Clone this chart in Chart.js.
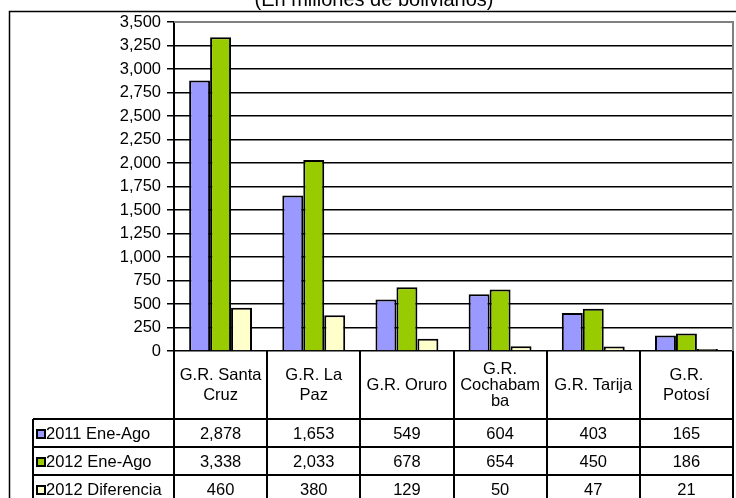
<!DOCTYPE html>
<html>
<head>
<meta charset="utf-8">
<script src="https://cdn.jsdelivr.net/npm/chart.js@4/dist/chart.umd.min.js"></script>
<style>
  html, body { margin: 0; padding: 0; background: #fff; }
  #wrap { width: 736px; height: 498px; }
</style>
</head>
<body>
<div id="wrap"><canvas id="chart" width="736" height="498"></canvas></div>
<script>
// data (millones de bolivianos)
var categories = [['G.R. Santa', 'Cruz'], ['G.R. La', 'Paz'], ['G.R. Oruro'], ['G.R.', 'Cochabam', 'ba'], ['G.R. Tarija'], ['G.R.', 'Potosí']];
var seriesNames = ['2011 Ene-Ago', '2012 Ene-Ago', '2012 Diferencia'];
var ene2011 = [2878, 1653, 549, 604, 403, 165];
var ene2012 = [3338, 2033, 678, 654, 450, 186];
var diferencia = [460, 380, 129, 50, 47, 21];
var seriesColors = ['#9999FF', '#99CC00', '#FFFFCC'];
var yTicks = [0, 250, 500, 750, 1000, 1250, 1500, 1750, 2000, 2250, 2500, 2750, 3000, 3250, 3500];
var title = '(En millones de bolivianos)';

var FONT = '"Liberation Sans", Arial, sans-serif';
var allSeries = [ene2011, ene2012, diferencia];

function fmt(v) { return v.toLocaleString('en-US'); }

// frame, title and plot-area border
var framePlugin = {
	id: 'frame',
	beforeDraw: function(chart) {
		var ctx = chart.ctx;
		ctx.save();
		ctx.fillStyle = '#fff';
		ctx.fillRect(0, 0, chart.width, chart.height);
		ctx.strokeStyle = '#000';
		ctx.lineWidth = 1.5;
		ctx.strokeRect(9.5, 11.5, chart.width + 20, chart.height + 20);
		ctx.fillStyle = '#000';
		ctx.font = '20px ' + FONT;
		ctx.textAlign = 'center';
		ctx.textBaseline = 'alphabetic';
		ctx.fillText(title, 374, 6);
		ctx.restore();
	},
	beforeDatasetsDraw: function(chart) {
		var ctx = chart.ctx, a = chart.chartArea;
		ctx.save();
		ctx.strokeStyle = '#808080';
		ctx.lineWidth = 2;
		ctx.beginPath();
		ctx.moveTo(a.left, a.top);
		ctx.lineTo(a.right, a.top);
		ctx.lineTo(a.right, a.bottom);
		ctx.stroke();
		ctx.restore();
	}
};

// data table under the plot, aligned to the category scale
var tablePlugin = {
	id: 'dataTable',
	afterDraw: function(chart) {
		var ctx = chart.ctx, a = chart.chartArea, xs = chart.scales.x;
		var n = categories.length;
		var cw = (a.right - a.left) / n;
		var top = a.bottom, headH = 68, rowH = 28, legLeft = 33;
		var bottom = top + headH + rowH * allSeries.length;
		ctx.save();
		ctx.strokeStyle = '#000';
		ctx.lineWidth = 2;
		ctx.beginPath();
		// vertical lines
		for (var i = 0; i <= n; i++) {
			var x = Math.round(a.left + cw * i);
			ctx.moveTo(x, top);
			ctx.lineTo(x, bottom);
		}
		ctx.moveTo(legLeft, top + headH);
		ctx.lineTo(legLeft, bottom);
		// horizontal lines
		for (var r = 0; r <= allSeries.length; r++) {
			var y = top + headH + rowH * r;
			ctx.moveTo(legLeft, y);
			ctx.lineTo(a.right, y);
		}
		ctx.stroke();

		ctx.fillStyle = '#000';
		ctx.font = '16.5px ' + FONT;
		ctx.textAlign = 'center';
		ctx.textBaseline = 'middle';
		// header labels
		for (var c = 0; c < n; c++) {
			var cx = xs.getPixelForValue(c);
			var lines = categories[c];
			var lh = lines.length > 2 ? 16 : 20;
			var y0 = top + headH / 2 - (lines.length - 1) * lh / 2;
			lines.forEach(function(t, k) { ctx.fillText(t, cx, y0 + k * lh); });
		}
		// rows
		allSeries.forEach(function(vals, r) {
			var cy = top + headH + rowH * r + rowH / 2;
			ctx.textAlign = 'center';
			vals.forEach(function(v, c) {
				ctx.fillText(fmt(v), xs.getPixelForValue(c), cy + 1);
			});
			ctx.fillStyle = seriesColors[r];
			ctx.fillRect(37, cy - 3, 8, 8);
			ctx.lineWidth = 2;
			ctx.strokeRect(37, cy - 3, 8, 8);
			ctx.fillStyle = '#000';
			ctx.textAlign = 'left';
			ctx.fillText(seriesNames[r], 46, cy + 1);
		});
		ctx.restore();
	}
};

var datasets = allSeries.map(function(vals, i) {
	return {
		label: seriesNames[i],
		data: vals,
		backgroundColor: seriesColors[i],
		borderColor: '#000',
		borderWidth: 2,
		categoryPercentage: 0.675,
		barPercentage: 1.0
	};
});

new Chart(document.getElementById('chart'), {
	type: 'bar',
	data: { labels: categories, datasets: datasets },
	plugins: [framePlugin, tablePlugin],
	options: {
		responsive: false,
		animation: false,
		layout: { padding: { left: 0, top: 22, right: 3, bottom: 147 } },
		plugins: {
			legend: { display: false },
			title: { display: false },
			tooltip: { enabled: false }
		},
		scales: {
			x: { display: false },
			y: {
				min: 0,
				max: 3500,
				afterBuildTicks: function(scale) {
					scale.ticks = yTicks.map(function(v) { return { value: v }; });
				},
				afterFit: function(scale) { scale.width = 174; },
				border: { color: '#000', width: 2 },
				grid: {
					color: function(c) { return c.tick && c.tick.value === 3500 ? 'rgba(0,0,0,0)' : '#000'; },
					tickColor: '#000',
					tickLength: 7,
					lineWidth: 1.5
				},
				ticks: {
					color: '#000',
					padding: 6,
					font: { family: FONT, size: 16.5 },
					callback: function(v) { return fmt(v); }
				}
			}
		}
	}
});
</script>
</body>
</html>
